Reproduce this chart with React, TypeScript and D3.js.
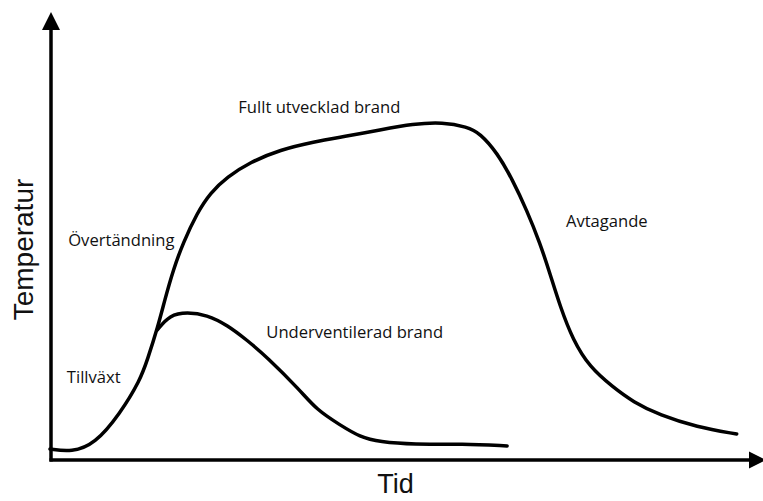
import React from "react";
import * as d3 from "d3";

// Fully developed fire curve (time, temperature) in arbitrary units 0..100
const mainTime = [0, 3.1, 6.4, 10, 12.9, 13.9, 15.4, 16.4, 17.6, 19, 21, 22.9, 25.3, 28.6, 32.9, 37.6, 42.4, 47.1, 51.9, 56.1, 59.6, 61.4, 63.9, 66.1, 68.1, 70, 71.4, 72.9, 74.7, 77.1, 80.4, 83.3, 87.1, 92.4, 98.1];
const mainTemp = [2.5, 1.8, 3.6, 10.5, 18.2, 22.7, 30.2, 36.4, 43.2, 49.3, 56.1, 60.7, 64.3, 67.7, 70.5, 72.3, 73.6, 75, 76.4, 76.8, 75.7, 74.3, 69.8, 63.6, 56.8, 49.3, 42.5, 34.8, 27.3, 21.1, 16.6, 13.2, 10.2, 7.5, 5.9];

// Under-ventilated fire curve
const underTime = [15.3, 17.1, 19.6, 22.4, 25.3, 28.1, 31, 35.7, 38.1, 41.4, 44.3, 47.1, 51.9, 59, 65.3];
const underTemp = [29.5, 33, 33.6, 33, 30.7, 27.3, 23.4, 15.9, 11.4, 8, 5.2, 4.1, 3.5, 3.7, 3.2];

// Phase labels
const phaseLabels = ["Fullt utvecklad brand", "Övertändning", "Tillväxt", "Underventilerad brand", "Avtagande"];
const phaseTime = [26.9, 2.6, 2.4, 30.9, 73.7];
const phaseTemp = [78.9, 48.6, 17.5, 27.7, 53];

const xAxisTitle = "Tid";
const yAxisTitle = "Temperatur";

const W = 763;
const H = 501;

export default function App() {
  const x = d3.scaleLinear().domain([0, 100]).range([50, 750]);
  const y = d3.scaleLinear().domain([0, 100]).range([460, 20]);

  const line = d3
    .line<[number, number]>()
    .x((d) => x(d[0]))
    .y((d) => y(d[1]))
    .curve(d3.curveBasis);

  const mainPts: [number, number][] = mainTime.map((t, i) => [t, mainTemp[i]]);
  const underPts: [number, number][] = underTime.map((t, i) => [t, underTemp[i]]);

  const axisX0 = x(0) + 1;
  const axisY0 = y(0);
  const labelFont = "'Open Sans', sans-serif";
  const titleFont = "'Liberation Sans', Arial, sans-serif";

  return (
    <svg
      width={W}
      height={H}
      style={{ position: "absolute", left: 0, top: 0, background: "#fff" }}
    >
      <rect width={W} height={H} fill="#fff" />
      {/* axes */}
      <line x1={axisX0} y1={axisY0 + 1.5} x2={axisX0} y2={28} stroke="#000" strokeWidth={3.5} />
      <path d={`M${axisX0},12 L${axisX0 + 9},30 L${axisX0 - 9},30 Z`} fill="#000" />
      <line x1={axisX0 - 1.5} y1={axisY0} x2={751} y2={axisY0} stroke="#000" strokeWidth={3.5} />
      <path d={`M766,${axisY0} L749,${axisY0 - 8.5} L749,${axisY0 + 8.5} Z`} fill="#000" />

      {/* curves */}
      <path d={line(mainPts) || ""} fill="none" stroke="#000" strokeWidth={3.5} strokeLinecap="round" strokeLinejoin="round" />
      <path d={line(underPts) || ""} fill="none" stroke="#000" strokeWidth={3.5} strokeLinecap="round" strokeLinejoin="round" />

      {/* phase labels */}
      {phaseLabels.map((lab, i) => (
        <text
          key={lab}
          x={x(phaseTime[i])}
          y={y(phaseTemp[i])}
          fontFamily={labelFont}
          fontSize={16.6}
          fill="#111"
        >
          {lab}
        </text>
      ))}

      {/* axis titles */}
      <text x={395.5} y={493} textAnchor="middle" fontFamily={titleFont} fontSize={27} fill="#111">
        {xAxisTitle}
      </text>
      <text
        transform={`translate(33,249.5) rotate(-90)`}
        textAnchor="middle"
        fontFamily={titleFont}
        fontSize={28}
        fill="#111"
      >
        {yAxisTitle}
      </text>
    </svg>
  );
}
